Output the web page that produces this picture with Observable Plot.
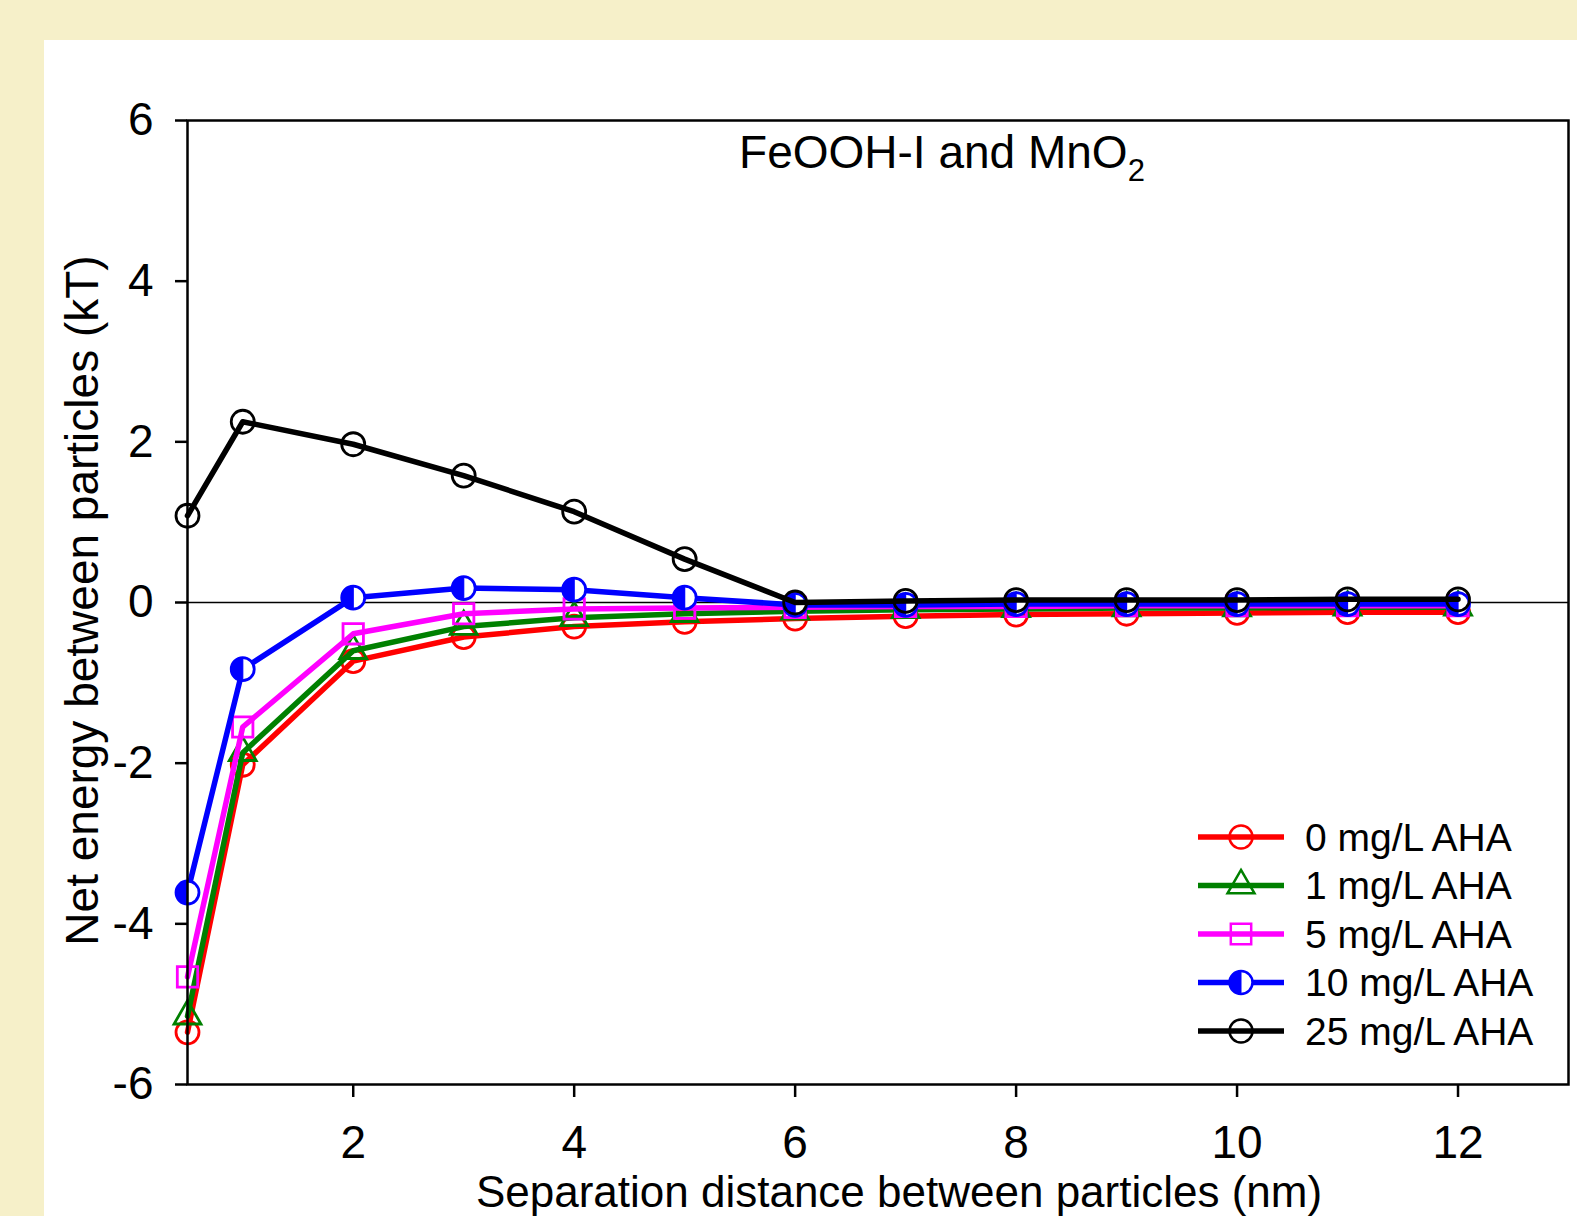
<!DOCTYPE html>
<html>
<head>
<meta charset="utf-8">
<script src="https://cdn.jsdelivr.net/npm/d3@7"></script>
<script src="https://cdn.jsdelivr.net/npm/@observablehq/plot@0.6"></script>
<style>
  html, body { margin: 0; padding: 0; width: 1577px; height: 1216px; overflow: hidden; background: #f6f0c9; }
  #panel { position: absolute; left: 44px; top: 40px; width: 1533px; height: 1176px; background: #ffffff; }
  #panel svg { display: block; }
</style>
</head>
<body>
<div id="panel"></div>
<script>
// ---- data ----
const distance = [0.5, 1, 2, 3, 4, 5, 6, 7, 8, 9, 10, 11, 12];
const seriesNames = ["0 mg/L AHA", "1 mg/L AHA", "5 mg/L AHA", "10 mg/L AHA", "25 mg/L AHA"];
const energy0  = [-5.35, -2.02, -0.73, -0.43, -0.30, -0.24, -0.20, -0.17, -0.15, -0.14, -0.13, -0.12, -0.12];
const energy1  = [-5.15, -1.87, -0.60, -0.30, -0.19, -0.14, -0.11, -0.09, -0.08, -0.07, -0.07, -0.06, -0.06];
const energy5  = [-4.66, -1.55, -0.39, -0.14, -0.08, -0.07, -0.06, -0.05, -0.05, -0.04, -0.04, -0.04, -0.04];
const energy10 = [-3.61, -0.83, 0.06, 0.18, 0.16, 0.06, -0.03, -0.03, -0.02, -0.02, -0.02, -0.02, -0.02];
const energy25 = [1.08, 2.25, 1.97, 1.58, 1.13, 0.54, 0.00, 0.02, 0.03, 0.03, 0.03, 0.04, 0.04];
const xTicks = [2, 4, 6, 8, 10, 12];
const yTicks = [-6, -4, -2, 0, 2, 4, 6];
const titleMain = "FeOOH-I and MnO";
const titleSub = "2";
const xLabel = "Separation distance between particles (nm)";
const yLabel = "Net energy between particles (kT)";

// ---- styles ----
const allEnergy = [energy0, energy1, energy5, energy10, energy25];
const colors = ["#ff0000", "#008000", "#ff00ff", "#0000ff", "#000000"];
const symbols = ["circle", "triangle", "square", "circle", "circle"];
const radii = [11.5, 10, 11.5, 11.5, 11.5];
const font = "'Liberation Sans', Arial, Helvetica, sans-serif";

const halfLeft = {
  draw(context, size) {
    const r = Math.sqrt(size / Math.PI);
    context.moveTo(0, -r);
    context.arc(0, 0, r, -Math.PI / 2, Math.PI / 2, true);
    context.closePath();
  }
};

const rows = [];
seriesNames.forEach((s, i) => distance.forEach((d, j) => rows.push({series: s, idx: i, distance: d, energy: allEnergy[i][j]})));

const marks = [Plot.ruleY([0], {stroke: "black", strokeWidth: 1.5})];
seriesNames.forEach((s, i) => {
  const data = rows.filter(d => d.idx === i);
  marks.push(Plot.line(data, {x: "distance", y: "energy", stroke: colors[i], strokeWidth: 5.5}));
  if (i === 3) {
    marks.push(Plot.dot(data, {x: "distance", y: "energy", r: radii[i], symbol: "circle", fill: "white", stroke: colors[i], strokeWidth: 2.8}));
    marks.push(Plot.dot(data, {x: "distance", y: "energy", r: radii[i], symbol: halfLeft, fill: colors[i], stroke: colors[i], strokeWidth: 1.2}));
  } else {
    marks.push(Plot.dot(data, {x: "distance", y: "energy", r: radii[i], symbol: symbols[i], fill: "none", stroke: colors[i], strokeWidth: 2.8}));
  }
});
marks.push(Plot.frame({stroke: "black", strokeWidth: 2.5}));
marks.push(Plot.axisX({ticks: xTicks, tickSize: 13, tickPadding: 28, tickFormat: d => String(d), label: null, strokeWidth: 2.5, fontSize: 46}));
marks.push(Plot.axisY({ticks: yTicks, tickSize: 12, tickPadding: 22, tickFormat: d => String(d), label: null, strokeWidth: 2.5, fontSize: 46}));
marks.push(Plot.text([xLabel], {text: d => d, frameAnchor: "bottom", textAnchor: "middle", dx: 21, dy: 108.9, lineAnchor: "middle", fontSize: 44}));
marks.push(Plot.text([yLabel], {text: d => d, frameAnchor: "left", textAnchor: "middle", dx: -104.5, dy: -2, rotate: -90, lineAnchor: "middle", fontSize: 46}));

const chart = Plot.plot({
  width: 1533,
  height: 1176,
  marginLeft: 143,
  marginTop: 80,
  marginRight: 9,
  marginBottom: 132,
  x: {domain: [0.5, 13]},
  y: {domain: [-6, 6]},
  style: {fontFamily: font, fontSize: "46px", color: "black", background: "white", overflow: "visible"},
  marks
});
document.getElementById("panel").appendChild(chart);

// ---- title with subscript ----
const svg = d3.select(chart);
const t = svg.append("text")
  .attr("x", 898).attr("y", 128)
  .attr("text-anchor", "middle")
  .attr("font-family", font).attr("font-size", 46).attr("fill", "black");
t.append("tspan").text(titleMain);
t.append("tspan").attr("font-size", 31).attr("dy", 13).text(titleSub);

// ---- legend ----
const lg = svg.append("g").attr("transform", "translate(1154,797)");
seriesNames.forEach((s, i) => {
  const row = lg.append("g").attr("transform", `translate(0,${i * 48.5})`);
  row.append("line").attr("x1", 0).attr("x2", 86).attr("y1", 0).attr("y2", 0)
    .attr("stroke", colors[i]).attr("stroke-width", 5.5);
  const sym = i === 3 ? d3.symbolCircle : ({circle: d3.symbolCircle, triangle: d3.symbolTriangle, square: d3.symbolSquare})[symbols[i]];
  const size = Math.PI * radii[i] * radii[i];
  row.append("path").attr("transform", "translate(43,0)").attr("d", d3.symbol(sym, size)())
    .attr("fill", i === 3 ? "white" : "none").attr("stroke", colors[i]).attr("stroke-width", 2.5);
  if (i === 3) {
    row.append("path").attr("transform", "translate(43,0)").attr("d", d3.symbol(halfLeft, size)())
      .attr("fill", colors[i]).attr("stroke", colors[i]).attr("stroke-width", 1);
  }
  row.append("text").attr("x", 107).attr("y", 0).attr("dy", "0.35em")
    .attr("text-anchor", "start")
    .attr("font-family", font).attr("font-size", 39).attr("fill", "black").text(s);
});
</script>
</body>
</html>
